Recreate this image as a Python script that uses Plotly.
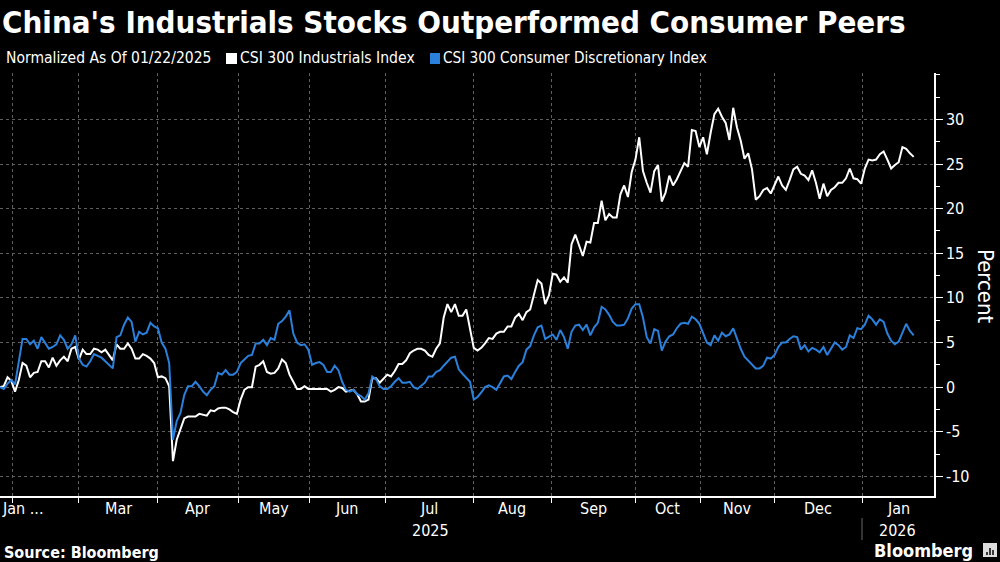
import plotly.graph_objects as go

# daily closes (one value per trading day, Jan 22 2025 onward)
industrials = [
    0, 0.1, 1.1, 0.7, -0.5, 0.8, 2.7, 2.4, 1.1, 1.6, 1.7, 2.9, 2.9, 2.2, 3.3, 2.4, 3.0, 3.4, 2.9, 4.3,
    4.5, 3.1, 4.2, 3.7, 3.7, 4.3, 4.2, 3.9, 4.2, 3.6, 3.0, 4.8, 4.3, 4.3, 4.9, 4.3, 3.2, 3.2, 3.7, 3.5,
    3.2, 2.7, 1.1, 1.2, 1.0, 0.1, -8.3, -5.9, -4.6, -3.5, -3.3, -3.3, -3.3, -3.0, -3.1, -3.2, -2.6, -2.7, -2.4, -2.3,
    -2.3, -2.5, -2.8, -3.0, -1.4, -0.3, 0, 0, 2.3, 2.5, 2.9, 1.7, 1.5, 1.6, 2.1, 3.1, 2.7, 1.4, 0.6, -0.2,
    -0.2, 0.1, -0.2, -0.2, -0.2, -0.2, -0.2, -0.2,
    -0.5, -0.3, 0, -0.1, -0.5, -0.4, -0.3, -0.8, -1.6, -1.6, -1.4, 1.0, 1.0, 0.5, 0.9, 1.4, 1.2, 1.8, 2.6, 2.6,
    3.0, 3.8, 4.1, 4.3, 4.3, 4.1, 3.6, 3.4, 4.3, 4.9, 7.8, 9.3, 8.4, 9.3, 8.0, 8.0, 8.7, 6.4, 4.4, 4.1,
    4.4, 4.9, 5.5, 5.4, 6.0, 6.2, 6.2, 6.8, 6.8, 7.8, 8.2, 7.5, 8.4, 8.7, 10.4, 12.0, 11.6, 9.3, 10.3, 12.7,
    12.6, 11.8, 12.3, 11.7, 16.0, 17.1, 15.9, 14.7, 16.3, 16.2, 18.4, 18.4, 20.9, 18.7, 19.4, 19.0, 19.0,
    21.6, 22.6, 21.3, 24.1, 25.5, 28.0, 24.2, 22.9, 21.8, 24.2, 24.9, 20.8, 21.8, 23.7, 22.6, 23.3, 24.2, 25.1, 24.7,
    28.8, 28.7, 26.9, 28.0, 26.1, 28.5, 30.6, 31.2, 30.3, 29.6, 27.7, 31.3, 29.1, 27.6, 25.6, 26.2, 24.4, 21.0, 21.4, 22.1,
    22.3, 21.7, 22.6, 23.6, 22.6, 22.1, 23.2, 24.4, 24.7, 23.9, 23.7, 23.2, 24.3, 22.9, 21.1, 22.8, 21.4, 22.1, 22.4, 22.9,
    22.9, 23.4, 24.5, 23.4, 23.3, 22.8, 24.5, 25.5, 25.4, 25.5, 26.1, 26.4, 25.5, 24.5, 24.9, 25.2, 26.9, 26.7, 26.2, 25.8,
]
consumer = [
    0, -0.2, 0.4, 0.8, 0.3, 2.7, 5.4, 5.4, 4.8, 5.2, 4.3, 5.6, 5.0, 4.3, 4.5, 4.8, 5.8, 5.3, 4.3, 4.8,
    5.8, 3.2, 2.5, 2.3, 2.9, 3.7, 3.5, 3.3, 2.9, 2.5, 2.1, 5.6, 5.8, 7.0, 7.8, 7.3, 5.1, 6.2, 5.9, 6.1,
    7.2, 6.8, 6.6, 5.0, 4.3, 2.7, -5.9, -3.8, -2.9, -0.9, 0.1, 0.1, 0.6, 0.1, -0.5, -0.9, -0.3, 0.1, 1.6, 1.4,
    1.9, 1.4, 1.4, 1.7, 2.7, 3.1, 3.5, 3.6, 4.9, 4.9, 5.3, 4.7, 5.5, 5.3, 7.1, 7.4, 7.9, 8.6, 6.0, 5.0,
    4.7, 4.8, 4.2, 2.5, 2.7, 2.8, 2.5, 1.7,
    1.7, 2.4, 1.9, 0.6, -0.3, -0.5, -0.3, -0.8, -1.0, -1.4, -0.7, 1.2, 0.9, 0.1, -0.2, -0.2, 0.1, 0.6, 1.0, 0.5,
    0.5, 0.6, 0, -0.2, 0.2, 0.5, 1.2, 1.2, 1.7, 1.9, 2.4, 2.9, 3.3, 3.4, 2.0, 1.5, 1.1, 0.6, -1.4, -1.1,
    -0.6, 0, 0.2, 0, -0.3, 0.4, 1.2, 1.3, 0.9, 1.7, 2.4, 2.8, 4.2, 4.6, 5.8, 6.7, 6.9, 5.4, 5.7, 5.9,
    5.3, 6.4, 5.6, 4.3, 6.2, 6.9, 7.0, 6.4, 7.0, 5.8, 6.7, 7.2, 9.0, 8.7, 8.1, 7.3, 6.9, 6.9, 7.0, 7.7,
    8.8, 9.3, 9.3, 7.8, 5.6, 4.9, 6.5, 6.3, 4.1, 5.1, 5.7, 5.9, 6.6, 7.1, 7.2, 7.1, 7.9, 7.6, 7.1, 6.0,
    5.0, 4.7, 5.8, 5.2, 6.1, 5.7, 5.9, 6.6, 5.4, 4.3, 3.4, 3.0, 2.6, 2.1, 2.1, 2.4, 3.3, 3.2, 3.6, 4.5,
    5.0, 5.0, 5.4, 5.7, 5.6, 4.2, 4.7, 4.0, 4.4, 4.2, 3.9, 4.5, 3.6, 4.3, 5.0, 4.7, 4.2, 4.5, 5.8, 5.5,
    6.6, 6.5, 7.0, 8.0, 7.6, 7.0, 7.6, 7.3, 6.0, 5.2, 4.8, 5.1, 6.2, 7.1, 6.3, 5.8,
]

# month boundaries in trading days from the start, the axis has no weekend gaps
month_ticks = [3.2, 21.0, 42.0, 63.3, 82.4, 102.4, 125.8, 146.8, 168.9, 186.2, 205.9, 229.3]
month_labels = ["Mar", "Apr", "May", "Jun", "Jul", "Aug", "Sep", "Oct", "Nov", "Dec"]
y_ticks = [-10, -5, 0, 5, 10, 15, 20, 25, 30]
y_labels = ["-10", "-5", "0", "5", "10", "15", "20", "25", "30"]
x_end = 248.4

BLUE = "#2b80dc"
W, H = 1000, 562
L, R, T, B = 0, 934, 73, 496
FONT = "DejaVu Sans Condensed"


# paper coordinates run over the plot area, so convert from page pixels
def px(x):
    return (x - L) / (R - L)


def py(y):
    return (B - y) / (B - T)


fig = go.Figure()
fig.add_trace(go.Scatter(x=list(range(len(industrials))), y=industrials, mode="lines",
                         line=dict(color="white", width=2), name="CSI 300 Industrials Index"))
fig.add_trace(go.Scatter(x=list(range(len(consumer))), y=consumer, mode="lines",
                         line=dict(color=BLUE, width=2), name="CSI 300 Consumer Discretionary Index"))

annots = []


def label(text, x, y, size=15, color="white", anchor="left", angle=0):
    annots.append(dict(text=text, x=px(x), y=py(y), xref="paper", yref="paper", xanchor=anchor, yanchor="middle",
                       showarrow=False, textangle=angle, borderpad=0, font=dict(family=FONT, size=size, color=color)))


label("<b>China's Industrials Stocks Outperformed Consumer Peers</b>", 1, 22, size=31)
label("Normalized As Of 01/22/2025", 5, 58, size=15.5)
label("CSI 300 Industrials Index", 239, 58, size=15.6)
label("CSI 300 Consumer Discretionary Index", 442, 58, size=15.2)
label("<b>Source: Bloomberg</b>", 3, 552, size=16)
label("<b>Bloomberg</b>", 873, 550, size=18)
label("Percent", 986, 286, size=22, angle=90, anchor="center")

# month names sit in the middle of their period
label("Jan ...", 1, 508, size=16)
for i, m in enumerate(month_labels):
    x0 = month_ticks[i + 1]
    x1 = month_ticks[i + 2]
    label(m, (x0 + x1) / 2 * R / x_end, 508, size=16, anchor="center")
label("Jan", (month_ticks[-1] + x_end) / 2 * R / x_end, 508, size=16, anchor="center")
label("2025", 430, 530, size=16, anchor="center")
label("2026", 897, 530, size=16, anchor="center")

shapes = [
    # legend squares
    dict(type="rect", xref="paper", yref="paper", x0=px(226), x1=px(237), y0=py(64), y1=py(53),
         fillcolor="white", line_width=0),
    dict(type="rect", xref="paper", yref="paper", x0=px(430), x1=px(440), y0=py(64), y1=py(53),
         fillcolor=BLUE, line_width=0),
    # year separator
    dict(type="line", xref="paper", yref="paper", x0=px(862), x1=px(862), y0=py(518), y1=py(540),
         line=dict(color="#666666", width=1)),
    # logo
    dict(type="rect", xref="paper", yref="paper", x0=px(983), x1=px(997), y0=py(557), y1=py(543),
         fillcolor="#dddddd", line_width=0),
]
for bx, top in [(987, 552), (990, 548), (993, 550)]:
    shapes.append(dict(type="line", xref="paper", yref="paper", x0=px(bx), x1=px(bx), y0=py(top), y1=py(555),
                       line=dict(color="black", width=1.5)))

fig.update_layout(
    width=W, height=H,
    paper_bgcolor="black", plot_bgcolor="black",
    margin=dict(l=L, r=W - R, t=T, b=H - B, autoexpand=False),
    showlegend=False,
    annotations=annots, shapes=shapes,
    font=dict(family=FONT, color="white", size=15),
    xaxis=dict(range=[0, x_end], tickvals=month_ticks, ticktext=[""] * len(month_ticks), ticks="outside", ticklen=5,
               tickcolor="white", showline=True, linecolor="white", linewidth=1.5,
               showgrid=True, gridcolor="#5f5f5f", griddash="dot", gridwidth=1, zeroline=False),
    yaxis=dict(range=[-12.2, 35.2], side="right", tickvals=y_ticks, ticktext=y_labels, ticks="outside", ticklen=7,
               tickcolor="white", showline=True, linecolor="white", linewidth=1.5,
               tickfont=dict(family=FONT, size=16, color="white"),
               minor=dict(tickmode="linear", tick0=-10, dtick=2.5, ticks="outside", ticklen=4, tickcolor="white"),
               showgrid=True, gridcolor="#5f5f5f", griddash="dot", gridwidth=1, zeroline=False),
)

# page margin off so the chart fills the window
fig.write_html("out.html", config={"displayModeBar": False},
               post_script="document.body.style.margin='0';document.body.style.background='black';")
